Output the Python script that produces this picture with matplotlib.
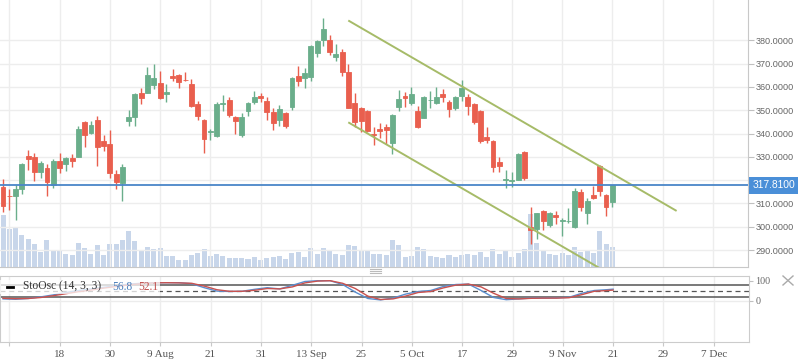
import matplotlib

matplotlib.use("Agg")
import matplotlib.pyplot as plt
import numpy as np
from matplotlib.lines import Line2D
from matplotlib.patches import Rectangle

# candle index 0 = 6 Jul 2018, one step per trading day
candle_idx = list(range(-1, 97))

opens = [317.2, 313.3, 313.1, 316.0, 330.5, 330.1, 323.4, 325.4, 318.0, 328.4,
         327.1, 329.6, 330.1, 345.0, 340.3, 345.9, 336.9, 335.6, 322.8, 318.9,
         345.5, 347.2, 357.5, 357.5, 360.9, 361.7, 357.0, 364.7, 365.2, 363.0,
         361.3, 352.8, 345.9, 340.8, 339.1, 352.8, 354.5, 347.2, 339.5, 349.8,
         353.6, 356.2, 354.0, 349.3, 345.9, 348.9, 351.5, 364.7, 363.9, 364.3,
         374.6, 380.1, 380.1, 372.9, 375.0, 366.4, 353.2, 351.0, 349.8, 339.9,
         342.1, 342.6, 336.1, 351.5, 356.2, 353.2, 349.8, 346.8, 354.3, 353.2,
         357.0, 353.6, 351.0, 356.2, 355.7, 352.8, 349.8, 338.6, 336.9, 327.9,
         320.1, 319.8, 320.2, 332.2, 299.9, 299.2, 306.6, 300.8, 305.1, 302.4,
         302.3, 300.0, 314.8, 305.9, 313.5, 326.2, 313.5, 310.6]
highs = [320.7, 316.2, 317.8, 327.3, 333.1, 331.8, 328.4, 327.1, 329.2, 331.8,
         330.1, 331.4, 343.3, 345.5, 345.5, 347.6, 339.5, 341.6, 324.5, 327.1,
         350.2, 357.5, 359.6, 368.6, 369.9, 366.9, 361.3, 367.7, 365.6, 366.4,
         363.5, 354.1, 346.1, 342.1, 353.6, 356.6, 355.7, 347.4, 348.9, 353.6,
         358.3, 357.5, 355.7, 351.0, 352.3, 349.1, 364.1, 369.0, 368.2, 378.0,
         380.1, 389.6, 382.3, 378.4, 376.3, 369.9, 357.5, 351.5, 350.2, 342.9,
         344.6, 344.2, 348.5, 358.7, 357.9, 360.0, 351.9, 355.9, 358.3, 360.0,
         359.2, 354.5, 356.2, 363.0, 357.0, 353.0, 350.0, 342.9, 337.3, 330.1,
         324.5, 323.7, 331.8, 332.6, 308.5, 306.0, 307.2, 306.3, 306.8, 303.8,
         308.0, 316.5, 316.1, 312.3, 317.7, 326.6, 313.9, 317.9]
lows = [306.2, 307.4, 303.1, 314.2, 324.5, 319.8, 321.1, 313.4, 316.6, 323.2,
        324.1, 325.8, 329.8, 334.4, 340.0, 326.2, 332.6, 321.1, 316.0, 311.2,
        343.3, 343.3, 352.8, 357.2, 359.2, 354.9, 353.6, 362.6, 359.6, 362.6,
        351.5, 345.9, 331.8, 337.3, 338.6, 349.8, 347.2, 339.9, 338.6, 347.6,
        352.8, 353.6, 345.9, 341.6, 343.3, 342.5, 350.2, 360.5, 359.6, 362.6,
        372.9, 377.6, 373.7, 371.2, 364.7, 350.8, 342.9, 340.8, 340.8, 335.2,
        338.1, 335.6, 331.4, 349.8, 351.5, 352.3, 342.5, 346.5, 351.0, 352.8,
        353.6, 347.2, 350.2, 354.0, 348.0, 344.2, 336.1, 336.1, 323.7, 323.7,
        316.8, 317.2, 320.0, 320.2, 292.4, 294.9, 298.7, 300.0, 301.3, 296.2,
        301.8, 299.6, 306.8, 301.3, 311.8, 313.1, 304.6, 308.5]
closes = [308.8, 313.2, 316.0, 327.1, 329.2, 323.4, 327.5, 319.4, 328.4, 325.4,
          329.6, 328.4, 342.1, 339.5, 343.8, 334.4, 334.8, 323.2, 319.4, 325.8,
          347.2, 357.0, 355.3, 365.2, 363.9, 355.3, 357.9, 363.9, 362.2, 362.9,
          351.9, 347.6, 337.8, 341.2, 352.8, 353.2, 348.0, 345.5, 347.2, 353.2,
          355.7, 355.3, 349.3, 344.6, 350.6, 343.3, 363.9, 362.6, 366.0, 377.6,
          379.7, 384.9, 375.0, 374.2, 366.4, 351.0, 345.0, 345.5, 341.2, 339.5,
          341.2, 341.6, 348.0, 354.9, 355.3, 357.0, 342.9, 355.7, 354.6, 355.7,
          355.7, 350.6, 355.7, 359.6, 351.9, 345.0, 336.9, 337.3, 325.8, 326.2,
          320.4, 320.1, 331.4, 321.1, 298.7, 305.9, 302.5, 305.9, 304.2, 303.0,
          302.4, 315.2, 308.5, 311.0, 312.3, 315.2, 308.5, 317.81]
volume_m = [7.85, 5.75, 5.9, 4.85, 4.25, 3.5, 2.3, 4.1, 2.6, 2.45,
            2.0, 1.85, 3.65, 2.9, 2.0, 3.35, 1.85, 3.5, 3.5, 4.1,
            5.45, 3.95, 2.45, 3.05, 2.75, 2.9, 1.7, 1.7, 1.1, 1.1,
            1.85, 2.15, 2.75, 1.7, 2.0, 1.7, 1.4, 1.4, 1.4, 1.25,
            1.55, 1.1, 1.4, 1.55, 1.7, 1.25, 2.15, 2.3, 1.55, 2.9,
            2.0, 2.9, 2.45, 2.0, 1.85, 3.35, 3.2, 2.6, 2.45, 2.0,
            2.0, 1.85, 4.1, 3.35, 1.55, 1.7, 3.05, 2.75, 1.7, 1.55,
            1.4, 1.85, 1.55, 1.85, 2.0, 1.85, 2.3, 1.55, 2.75, 2.0,
            2.6, 1.55, 2.15, 2.75, 8.0, 3.65, 2.45, 2.0, 1.85, 2.15,
            1.85, 3.05, 2.3, 2.45, 2.15, 5.45, 3.5, 3.05]

# stochastic oscillator (14, 3, 3) read every other candle
osc_idx = [-1, 1, 3, 5, 7, 9, 11, 13, 15, 17, 19, 21, 23, 25, 27, 29, 31, 33,
           35, 37, 39, 41, 43, 45, 47, 49, 51, 53, 55, 57, 59, 61, 63, 65, 67,
           69, 71, 73, 75, 77, 79, 81, 83, 85, 87, 89, 91, 93, 95, 96]
stoch_k = [8, 6, 10, 18, 28, 40, 50, 58, 66, 74, 82, 86, 89, 89, 89, 84, 64, 47,
           45, 46, 56, 64, 58, 76, 95, 99, 99, 80, 42, 10, 3, 12, 32, 45, 50,
           70, 80, 82, 50, 15, 4, 8, 12, 12, 13, 16, 36, 50, 54, 56.8]
stoch_d = [11, 9, 10, 15, 24, 34, 44, 52, 62, 70, 78, 84, 88, 89, 88, 86, 72, 54,
           46, 46, 51, 60, 58, 68, 88, 97, 99, 86, 60, 22, 5, 8, 22, 40, 45,
           63, 77, 82, 68, 36, 10, 8, 11, 12, 12, 14, 29, 46, 50, 52.1]

# descending channel (index, price)
channel_x = [54.1, 106.1]
channel_upper = [388.3, 307.0]
channel_lower = [344.6, 263.3]

tick_idx = list(range(0, 113, 8))
tick_labels = ["", "18", "30", "9 Aug", "21", "31", "13 Sep", "25", "5 Oct",
               "17", "29", "9 Nov", "21", "29", "7 Dec"]
price_ticks = list(range(290, 381, 10))

UP = "#6aae8b"
DOWN = "#e95f4e"
W, H = 798, 363


def fx(px):
    return px / W


def fy(py):
    return 1 - py / H


fig = plt.figure(figsize=(W / 100, H / 100), dpi=100)
ax = fig.add_axes([0, fy(267.3), 748 / W, 267.3 / H])
vol_ax = ax.twinx()
ax.set_zorder(vol_ax.get_zorder() + 1)
ax.patch.set_visible(False)
osc = fig.add_axes([0, fy(341.7), 749 / W, 66 / H], sharex=ax)

# volume
vol_ax.bar(candle_idx, volume_m, width=0.8, color="#c8d6ea", linewidth=0)
vol_ax.set_ylim(0, 40.1)
vol_ax.set_yticks([])
for s in vol_ax.spines.values():
    s.set_visible(False)

# candles
o = np.array(opens)
c = np.array(closes)
colors = [UP if cc >= oo else DOWN for oo, cc in zip(o, c)]
ax.vlines(candle_idx, lows, highs, colors=colors, linewidth=1.0, zorder=3)
ax.bar(candle_idx, np.abs(c - o), bottom=np.minimum(o, c), width=0.78,
       color=colors, edgecolor=colors, linewidth=0.6, zorder=4)

ax.plot(channel_x, channel_upper, color="#a6bb68", lw=1.4, zorder=5)
ax.plot(channel_x, channel_lower, color="#a6bb68", lw=1.4, zorder=5)
ax.axhline(closes[-1], color="#4a86c8", lw=1.3, zorder=6)

ax.set_xlim(-1.48, 117.6)
ax.set_ylim(282.6, 397.3)
ax.set_xticks(tick_idx)
ax.set_yticks(price_ticks)
# the 320 label sits under the last-price box
ax.set_yticklabels(["" if p == 320 else f"{p:.4f}" for p in price_ticks],
                   fontfamily="Liberation Sans")
ax.yaxis.tick_right()
ax.grid(True, color="#ededed", lw=1, zorder=0)
ax.tick_params(axis="x", length=0, labelbottom=False)
ax.tick_params(axis="y", length=4, width=0.8, color="#c0c0c0", pad=1.5,
               labelsize=6.6, labelcolor="#666666")
for side in ("top", "left"):
    ax.spines[side].set_visible(False)
for side in ("right", "bottom"):
    ax.spines[side].set_color("#c8c8c8")

ax.annotate(f"{closes[-1]:.4f}", xy=(1, closes[-1]), xycoords=ax.get_yaxis_transform(),
            xytext=(3.5, 0), textcoords="offset points", va="center", ha="left",
            fontsize=7.4, fontfamily="Liberation Sans", color="white",
            bbox=dict(boxstyle="square,pad=0.35", fc="#4a8fd8", ec="none"),
            annotation_clip=False, zorder=10)

# oscillator
osc.plot(osc_idx, stoch_k, color="#5a8fd0", lw=1.0, zorder=3)
osc.plot(osc_idx, stoch_d, color="#c9524f", lw=1.0, zorder=3)
osc.axhline(80, color="#555555", lw=1.1, zorder=2)
osc.axhline(20, color="#555555", lw=1.1, zorder=2)
osc.axhline(50, color="#555555", lw=0.9, ls=(0, (4, 3)), zorder=2)
osc.axhline(0, color="#ececec", lw=1, zorder=1)
osc.set_ylim(-206, 124)
osc.set_xticks(tick_idx)
osc.set_xticklabels(tick_labels, fontfamily="Liberation Serif")
osc.grid(True, axis="x", color="#ededed", lw=1, zorder=0)
osc.yaxis.tick_right()
osc.set_yticks([0, 100])
osc.set_yticklabels(["0", "100"], fontfamily="Liberation Serif")
osc.tick_params(axis="y", length=3, color="#c0c0c0", pad=1.5, labelsize=7.2,
                labelcolor="#666666")
osc.tick_params(axis="x", length=3, color="#c8c8c8", pad=3, labelsize=8,
                labelcolor="#555555")
for s in osc.spines.values():
    s.set_color("#cccccc")

osc.add_patch(Rectangle((0, 0.72), 0.214, 0.22, transform=osc.transAxes,
                        fc="white", ec="none", alpha=0.75, zorder=5))
fig.add_artist(Line2D([fx(7), fx(13)], [fy(286.5)] * 2, color="black", lw=2))
fig.text(fx(23), fy(286.5), "StoOsc (14, 3, 3)", fontsize=8.3, color="#333333",
         fontfamily="Liberation Serif", va="center", ha="left")
fig.text(fx(112), fy(286.5), f"{stoch_k[-1]:.1f}", fontsize=8.3, color="#4a7ebb",
         fontfamily="Liberation Serif", va="center", ha="left")
fig.text(fx(138), fy(286.5), f"{stoch_d[-1]:.1f}", fontsize=8.3, color="#c0504d",
         fontfamily="Liberation Serif", va="center", ha="left")

# pane handle and close icon
for yy in (269, 271, 273):
    fig.add_artist(Line2D([fx(370), fx(381)], [fy(yy)] * 2, color="#bbbbbb", lw=0.8))
fig.add_artist(Line2D([fx(783), fx(793)], [fy(276), fy(285)], color="#aaaaaa", lw=1))
fig.add_artist(Line2D([fx(783), fx(793)], [fy(285), fy(276)], color="#aaaaaa", lw=1))

fig.savefig("out.png", dpi=100)
plt.close(fig)
